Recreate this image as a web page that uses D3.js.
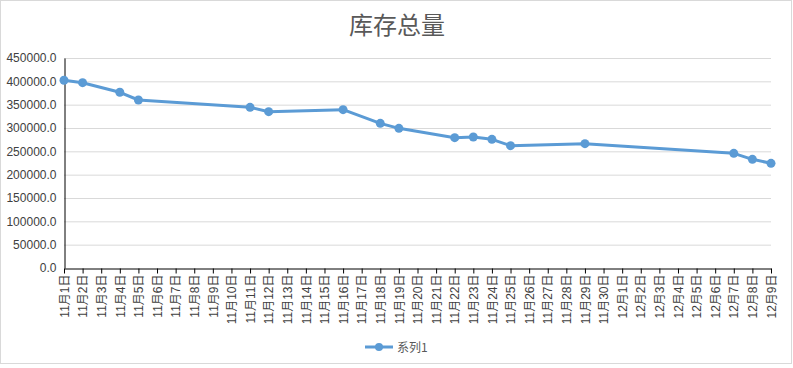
<!DOCTYPE html>
<html><head><meta charset="utf-8">
<script src="https://cdn.jsdelivr.net/npm/d3@7"></script>
<style>body{margin:0;background:#fff}svg{display:block}</style>
</head><body>
<svg id="c" width="793" height="368"></svg>
<script>
const categories = [];
for (let d = 1; d <= 30; d++) categories.push("11月" + d + "日");
for (let d = 1; d <= 9; d++) categories.push("12月" + d + "日");
const pointDates = ["11月1日","11月2日","11月4日","11月5日","11月11日","11月12日","11月16日","11月18日","11月19日","11月22日","11月23日","11月24日","11月25日","11月29日","12月7日","12月8日","12月9日"];
const values = [402200,397100,376500,360000,344300,335000,339300,310000,299300,279300,280700,275700,262100,266400,245700,232900,224300];
const yTicks = [0,50000,100000,150000,200000,250000,300000,350000,400000,450000];
const seriesName = "系列1";
const title = "库存总量";

const svg = d3.select("#c");
const L = 64, R = 771, T = 58, B = 268;
const color = "#5b9bd5";
const font = "'Liberation Sans', Arial, 'Noto Sans CJK SC', sans-serif";

svg.append("rect").attr("x",0.5).attr("y",0.5).attr("width",791).attr("height",363)
  .attr("fill","#fff").attr("stroke","#d9d9d9");

svg.append("text").attr("x",397).attr("y",34).attr("text-anchor","middle")
  .attr("font-family","'Noto Sans CJK SC', sans-serif").attr("font-size",24)
  .attr("fill","#595959").text(title);

const x = d3.scalePoint().domain(categories).range([L, R]).padding(0);
const y = d3.scaleLinear().domain([0, 450000]).range([B, T]);

// gridlines
svg.append("g").selectAll("line").data(yTicks.slice(1)).join("line")
  .attr("x1", L).attr("x2", R).attr("y1", d => y(d)+0.5).attr("y2", d => y(d)+0.5)
  .attr("stroke", "#d9d9d9").attr("stroke-width", 1);

// y axis
const yAxis = svg.append("g").attr("transform", `translate(${L+0.5},0)`)
  .call(d3.axisLeft(y).tickValues(yTicks).tickSize(0).tickPadding(8).tickFormat(d => d3.format(".1f")(d)));
yAxis.select(".domain").attr("stroke","#000");
yAxis.selectAll("text").attr("font-family", font).attr("font-size", 12).attr("fill", "#404040");

// x axis
const xAxis = svg.append("g").attr("transform", `translate(0,${B+0.5})`)
  .call(d3.axisBottom(x).tickSize(5).tickSizeOuter(0));
xAxis.select(".domain").attr("stroke","#000");
xAxis.selectAll(".tick line").attr("stroke","#000");
xAxis.selectAll("text")
  .attr("font-family", font).attr("font-size", 12).attr("fill", "#404040")
  .attr("transform", "rotate(-90)").attr("text-anchor", "end")
  .attr("x", -6).attr("y", 0).attr("dy", "0.35em");

const pts = pointDates.map((d, i) => ({d, v: values[i]}));
svg.append("path").datum(pts)
  .attr("fill","none").attr("stroke",color).attr("stroke-width",3).attr("stroke-linejoin","round")
  .attr("d", d3.line().x(p => x(p.d)).y(p => y(p.v)));
svg.append("g").selectAll("circle").data(pts).join("circle")
  .attr("cx", p => x(p.d)).attr("cy", p => y(p.v)).attr("r", 4.5).attr("fill", color);

// legend
const lg = svg.append("g");
lg.append("line").attr("x1",365).attr("x2",393).attr("y1",347).attr("y2",347)
  .attr("stroke",color).attr("stroke-width",3);
lg.append("circle").attr("cx",379).attr("cy",347).attr("r",4).attr("fill",color);
lg.append("text").attr("x",397).attr("y",351.5).attr("font-family","'Noto Sans CJK SC', sans-serif")
  .attr("font-size",12).attr("fill","#595959").text(seriesName);
</script>
</body></html>
